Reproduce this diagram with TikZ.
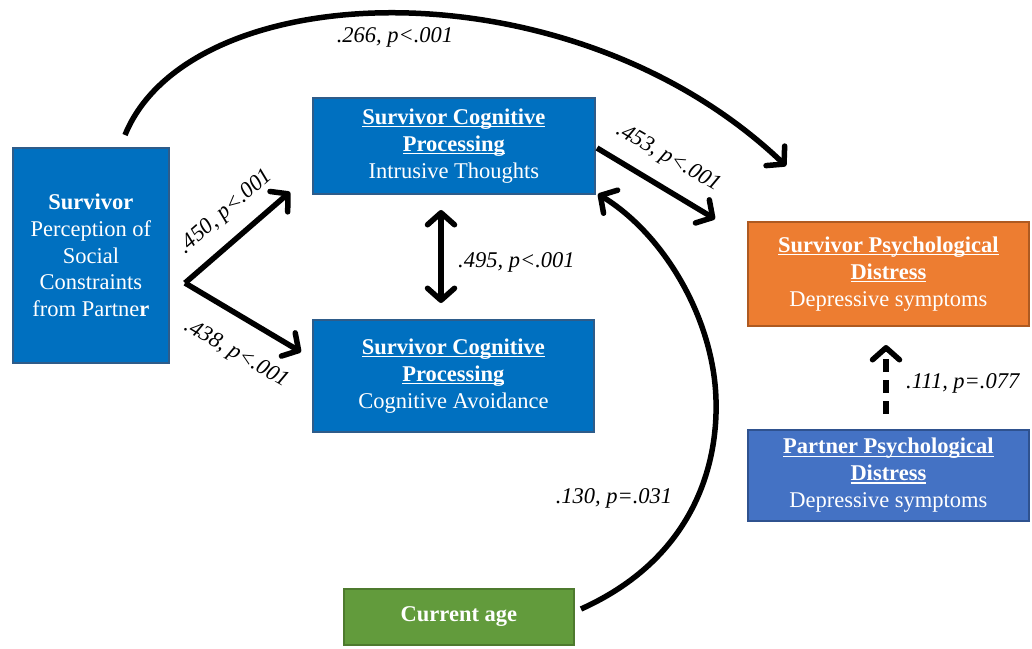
\documentclass[tikz,border=0pt]{standalone}
\usepackage{fontspec}
\setmainfont{Liberation Serif}
\usetikzlibrary{arrows.meta}
\definecolor{boxblue}{HTML}{0070C0}
\definecolor{boxblueD}{HTML}{2E5C8A}
\definecolor{boxorange}{HTML}{ED7D31}
\definecolor{boxorangeD}{HTML}{AE5A21}
\definecolor{boxpblue}{HTML}{4472C4}
\definecolor{boxpblueD}{HTML}{2F528F}
\definecolor{boxgreen}{HTML}{629B3C}
\definecolor{boxgreenD}{HTML}{4E7A2E}
\newcommand\myul[1]{\setbox0\hbox{#1}\rlap{\rule[-3pt]{\wd0}{1.3pt}}\box0}
\begin{document}
\begin{tikzpicture}[x=1pt,y=-1pt,
  font=\fontsize{22.5}{26.8}\selectfont,
  box/.style={draw, line width=1.8pt, text=white, align=center, inner sep=0pt, anchor=north west},
  tip/.tip={Straight Barb[length=12pt,width=27pt,round]},
  conn/.style={line width=5.5pt, -tip},
  lbl/.style={font=\fontsize{22.5}{26.8}\selectfont\itshape, inner sep=0pt}]
\useasboundingbox (0,0) rectangle (1032,648);
% boxes
\node[box, fill=boxblue, draw=boxblueD, minimum width=156pt, minimum height=215pt] (surv) at (12,147)
  {\textbf{Survivor}\\Perception of\\Social\\Constraints\\from Partne\textbf{r}};
\node[box, fill=boxblue, draw=boxblueD, minimum width=282pt, minimum height=96pt] (it) at (312,97)
  {\textbf{\myul{Survivor Cognitive}}\\\textbf{\myul{Processing}}\\Intrusive Thoughts};
\node[box, fill=boxblue, draw=boxblueD, minimum width=281pt, minimum height=112pt] (ca) at (312,319)
  {\textbf{\myul{Survivor Cognitive}}\\\textbf{\myul{Processing}}\\Cognitive Avoidance};
\node[box, fill=boxorange, draw=boxorangeD, minimum width=281pt, minimum height=104pt] (spd) at (747,221)
  {\textbf{\myul{Survivor Psychological}}\\\textbf{\myul{Distress}}\\Depressive symptoms};
\node[box, fill=boxpblue, draw=boxpblueD, minimum width=281pt, minimum height=91pt] (ppd) at (747,429)
  {\textbf{\myul{Partner Psychological}}\\\textbf{\myul{Distress}}\\Depressive symptoms};
\node[box, fill=boxgreen, draw=boxgreenD, minimum width=230pt, minimum height=56pt] (age) at (343,588)
  {\textbf{Current age}};
% connector end points
\coordinate (fork) at (185,283);
\coordinate (itin) at (290,192);
\coordinate (cain) at (301,352);
\coordinate (topS) at (125,135);
\coordinate (topE) at (786,166);
\coordinate (itout) at (597,148);
\coordinate (spdin) at (715,219);
\coordinate (dblA) at (441,210);
\coordinate (dblB) at (441,303);
\coordinate (ageout) at (581,609);
\coordinate (ageM) at (716,400);
\coordinate (agein) at (598,194);
\coordinate (ppdout) at (886,414);
\coordinate (spdin2) at (886,345);
% connectors
\draw[conn] (fork) -- (itin);
\draw[conn] (fork) -- (cain);
\draw[conn] (topS) .. controls (190,-25) and (570,-40) .. (topE);
\draw[conn] (itout) -- (spdin);
\draw[conn, tip-tip] (dblA) -- (dblB);
\draw[line width=5.5pt] (ageout) .. controls (690,560) and (718,470) .. (ageM);
\draw[conn] (ageM) .. controls (714,320) and (665,235) .. (agein);
\draw[conn, dash pattern=on 13pt off 8pt] (ppdout) -- (spdin2);
% labels
\node[lbl] (l266) at (395,37) {.266, p<.001};
\node[lbl, rotate=41] (l450) at (226,212) {.450, p<.001};
\node[lbl, rotate=-30] (l438) at (236,354) {.438, p<.001};
\node[lbl, rotate=-30] (l453) at (668,158) {.453, p<.001};
\node[lbl, anchor=west] (l495) at (458,262) {.495, p<.001};
\node[lbl, anchor=west] (l111) at (906,383) {.111, p=.077};
\node[lbl] (l130) at (614,498) {.130, p=.031};
\end{tikzpicture}
\end{document}
